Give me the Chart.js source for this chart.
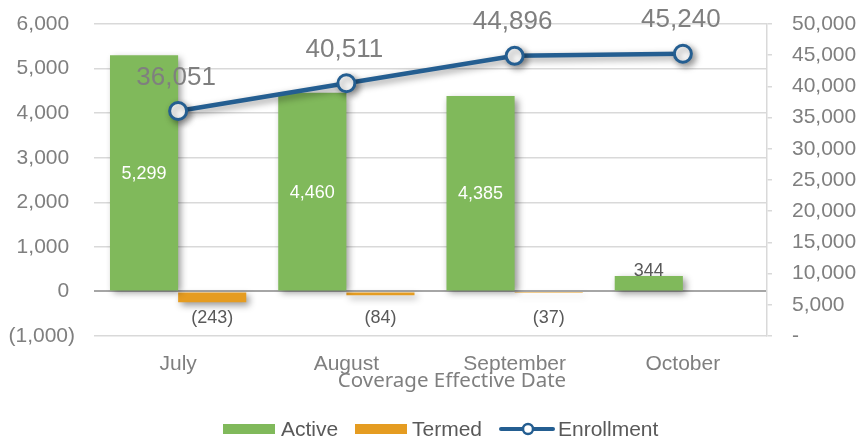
<!DOCTYPE html>
<html>
<head>
<meta charset="utf-8">
<script src="https://cdn.jsdelivr.net/npm/chart.js@4.4.1/dist/chart.umd.min.js"></script>
<style>
  html, body { margin: 0; padding: 0; background: #ffffff; }
  #wrap { width: 857px; height: 442px; position: relative; }
</style>
</head>
<body>
<div id="wrap"><canvas id="chart" width="857" height="442"></canvas></div>
<script>
// ---- data ----
const categories = ['July', 'August', 'September', 'October'];
const activeValues = [5299, 4460, 4385, 344];
const termedValues = [-243, -84, -37, null];
const enrollmentValues = [36051, 40511, 44896, 45240];
const seriesNames = ['Active', 'Termed', 'Enrollment'];
const axisTitle = 'Coverage Effective Date';
const leftAxisRange = [-1000, 6000, 1000];
const rightAxisRange = [0, 50000, 5000];

// ---- styles ----
const GREEN = '#80b95b';
const ORANGE = '#e59c21';
const BLUE = '#245e91';
const TICK_GRAY = '#7f7f7f';
const DARK_GRAY = '#595959';
const FONT = '"Liberation Sans", Arial, sans-serif';

function fmt(n) { return Math.abs(n).toLocaleString('en-US'); }
function acct(n) { return n < 0 ? '(' + fmt(n) + ')' : fmt(n) + ' '; }

const shadowPlugin = {
  id: 'shadow',
  beforeDatasetDraw(chart) {
    const ctx = chart.ctx;
    ctx.save();
    ctx.shadowColor = 'rgba(0,0,0,0.42)';
    ctx.shadowBlur = 7;
    ctx.shadowOffsetX = 3;
    ctx.shadowOffsetY = 3;
  },
  afterDatasetDraw(chart) { chart.ctx.restore(); }
};

const labelPlugin = {
  id: 'labels',
  afterDatasetsDraw(chart) {
    const ctx = chart.ctx;
    const yZero = chart.scales.y.getPixelForValue(0);
    ctx.save();
    // Active labels
    const m0 = chart.getDatasetMeta(0);
    m0.data.forEach((bar, i) => {
      const v = activeValues[i];
      if (v == null) return;
      ctx.font = '18px ' + FONT;
      ctx.textAlign = 'center';
      const h = Math.abs(bar.base - bar.y);
      if (h > 40) {
        ctx.fillStyle = '#ffffff';
        ctx.textBaseline = 'middle';
        ctx.fillText(acct(v).trim(), bar.x, (bar.y + bar.base) / 2 + 1);
      } else {
        ctx.fillStyle = DARK_GRAY;
        ctx.textBaseline = 'alphabetic';
        ctx.fillText(acct(v).trim(), bar.x, bar.y);
      }
    });
    // Termed labels
    const m1 = chart.getDatasetMeta(1);
    m1.data.forEach((bar, i) => {
      const v = termedValues[i];
      if (v == null) return;
      ctx.font = '18px ' + FONT;
      ctx.textAlign = 'center';
      ctx.textBaseline = 'middle';
      ctx.fillStyle = DARK_GRAY;
      ctx.fillText(acct(v).trim(), bar.x, yZero + 27);
    });
    // Enrollment labels
    const m2 = chart.getDatasetMeta(2);
    m2.data.forEach((pt, i) => {
      const v = enrollmentValues[i];
      ctx.font = '26px ' + FONT;
      ctx.textAlign = 'center';
      ctx.textBaseline = 'alphabetic';
      ctx.fillStyle = TICK_GRAY;
      ctx.fillText(fmt(v), pt.x - 2, pt.y - 26.5);
    });
    ctx.restore();
  }
};

const extrasPlugin = {
  id: 'extras',
  afterDraw(chart) {
    const ctx = chart.ctx;
    ctx.save();
    // x axis title
    ctx.font = '20.5px "Noto Sans", "Open Sans", sans-serif';
    ctx.fillStyle = TICK_GRAY;
    ctx.textAlign = 'center';
    ctx.textBaseline = 'alphabetic';
    ctx.fillText(axisTitle, 452, 387);
    // legend
    ctx.font = '21px ' + FONT;
    ctx.fillStyle = GREEN;
    ctx.fillRect(223, 424, 52, 10);
    ctx.fillStyle = ORANGE;
    ctx.fillRect(355, 424, 52, 10);
    ctx.strokeStyle = BLUE;
    ctx.lineWidth = 4;
    ctx.lineCap = 'round';
    ctx.beginPath();
    ctx.moveTo(501, 429); ctx.lineTo(553, 429);
    ctx.stroke();
    ctx.beginPath();
    ctx.arc(528, 429, 5, 0, Math.PI * 2);
    ctx.fillStyle = '#ffffff';
    ctx.fill();
    ctx.lineWidth = 2.5;
    ctx.stroke();
    ctx.fillStyle = DARK_GRAY;
    ctx.textAlign = 'left';
    ctx.fillText(seriesNames[0], 281, 436);
    ctx.fillText(seriesNames[1], 412, 436);
    ctx.fillText(seriesNames[2], 558, 436);
    ctx.restore();
  }
};

new Chart(document.getElementById('chart'), {
  data: {
    labels: categories,
    datasets: [
      {
        type: 'bar', label: seriesNames[0], data: activeValues,
        backgroundColor: GREEN, yAxisID: 'y', order: 2,
        barPercentage: 1.0, categoryPercentage: 0.81
      },
      {
        type: 'bar', label: seriesNames[1], data: termedValues,
        backgroundColor: ORANGE, yAxisID: 'y', order: 3,
        barPercentage: 1.0, categoryPercentage: 0.81
      },
      {
        type: 'line', label: seriesNames[2], data: enrollmentValues,
        borderColor: BLUE, borderWidth: 4.5, yAxisID: 'y1', order: 0,
        pointRadius: 8.5, pointBorderWidth: 3, pointBackgroundColor: '#ffffff',
        pointBorderColor: BLUE, tension: 0, clip: false
      }
    ]
  },
  options: {
    responsive: false,
    animation: false,
    devicePixelRatio: 1,
    layout: { padding: { top: 24, bottom: 0, left: 0, right: 0 } },
    plugins: { legend: { display: false }, tooltip: { enabled: false } },
    scales: {
      x: {
        offset: true,
        grid: { display: false },
        border: { display: false },
        ticks: { color: TICK_GRAY, font: { family: FONT, size: 21 }, padding: 8 },
        afterFit(s) { s.height = 106; s.paddingLeft = 0; s.paddingRight = 0; }
      },
      y: {
        position: 'left',
        min: leftAxisRange[0], max: leftAxisRange[1],
        ticks: {
          stepSize: leftAxisRange[2], color: TICK_GRAY,
          font: { family: FONT, size: 21 }, padding: 19,
          callback: (v) => acct(v)
        },
        grid: {
          drawTicks: false,
          color: (c) => c.tick && c.tick.value === 0 ? '#a6a6a6' : '#d9d9d9',
          lineWidth: (c) => c.tick && c.tick.value === 0 ? 2 : 1.5
        },
        border: { display: false },
        afterFit(s) { s.width = 94; s.paddingTop = 0; s.paddingBottom = 0; }
      },
      y1: {
        position: 'right',
        min: rightAxisRange[0], max: rightAxisRange[1],
        ticks: {
          stepSize: rightAxisRange[2], color: TICK_GRAY,
          font: { family: FONT, size: 21 }, padding: 20,
          callback: (v) => v === 0 ? '-' : fmt(v)
        },
        grid: { drawOnChartArea: false, drawTicks: true, tickLength: 5, color: '#d9d9d9', lineWidth: 1.5 },
        border: { display: true, color: '#d9d9d9', width: 1.5 },
        afterFit(s) { s.width = 90; s.paddingTop = 0; s.paddingBottom = 0; }
      }
    }
  },
  plugins: [shadowPlugin, labelPlugin, extrasPlugin]
});
</script>
</body>
</html>
